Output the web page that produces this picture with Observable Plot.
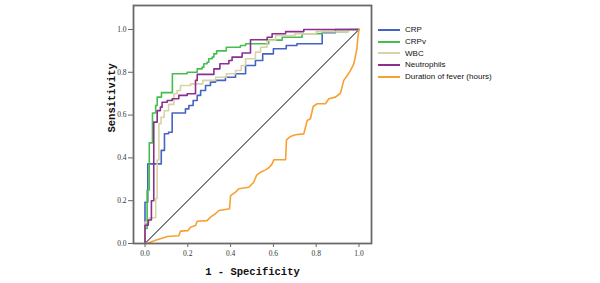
<!DOCTYPE html>
<html>
<head>
<meta charset="utf-8">
<script src="https://cdn.jsdelivr.net/npm/d3@7"></script>
<script src="https://cdn.jsdelivr.net/npm/@observablehq/plot@0.6"></script>
<style>
  html, body { margin: 0; padding: 0; background: #fff; }
  #wrap { position: relative; width: 600px; height: 283px; overflow: hidden; }
  #legend { position: absolute; left: 378px; top: 24px; font-family: "Liberation Sans", Arial, sans-serif; font-size: 8px; color: #111; }
  .row { display: flex; align-items: center; height: 11.7px; }
  .sw { width: 22px; height: 2px; margin-right: 5px; }
</style>
</head>
<body>
<div id="wrap">
  <div id="chart"></div>
  <div id="legend"></div>
</div>
<script>
// Series names and colours
const seriesNames = ["CRP", "CRPv", "WBC", "Neutrophils", "Duration of fever (hours)"];
const seriesColors = ["#4463c4", "#45bd4f", "#d8d2a6", "#8b2e8d", "#f7a131"];

// Axis ticks
const xTicks = [0, 0.2, 0.4, 0.6, 0.8, 1.0];
const yTicks = [0, 0.2, 0.4, 0.6, 0.8, 1.0];

// Reference diagonal
const refX = [0, 1];
const refY = [0, 1];

// ROC coordinates (1 - specificity, sensitivity), step curves
const crpFpr = [0, 0.013, 0.076, 0.091, 0.11, 0.127, 0.189, 0.205, 0.225, 0.244, 0.26, 0.283, 0.306, 0.33, 0.376, 0.423, 0.47, 0.516, 0.55, 0.60, 0.66, 0.71, 0.828, 0.89, 1];
const crpTpr = [0, 0.193, 0.372, 0.435, 0.513, 0.52, 0.61, 0.629, 0.645, 0.668, 0.692, 0.715, 0.738, 0.754, 0.762, 0.777, 0.793, 0.832, 0.855, 0.886, 0.91, 0.925, 0.933, 0.985, 1];

const crpvFpr = [0, 0.01, 0.02, 0.035, 0.05, 0.057, 0.077, 0.128, 0.197, 0.244, 0.267, 0.275, 0.29, 0.298, 0.314, 0.322, 0.335, 0.38, 0.446, 0.47, 0.578, 0.641, 0.734, 0.828, 0.95, 1];
const crpvTpr = [0, 0.07, 0.25, 0.47, 0.61, 0.645, 0.684, 0.705, 0.793, 0.80, 0.816, 0.824, 0.84, 0.847, 0.863, 0.871, 0.886, 0.90, 0.917, 0.925, 0.933, 0.95, 0.964, 0.98, 0.99, 1];

const wbcFpr = [0, 0.02, 0.05, 0.057, 0.065, 0.075, 0.09, 0.11, 0.135, 0.15, 0.166, 0.213, 0.27, 0.33, 0.38, 0.423, 0.45, 0.47, 0.516, 0.54, 0.57, 0.61, 0.70, 0.80, 0.95, 1];
const wbcTpr = [0, 0.10, 0.12, 0.21, 0.39, 0.56, 0.59, 0.62, 0.65, 0.70, 0.715, 0.738, 0.746, 0.762, 0.777, 0.793, 0.808, 0.832, 0.863, 0.894, 0.917, 0.949, 0.972, 0.98, 0.99, 1];

const neuFpr = [0, 0.015, 0.03, 0.041, 0.057, 0.072, 0.08, 0.104, 0.127, 0.158, 0.197, 0.236, 0.244, 0.322, 0.35, 0.392, 0.407, 0.454, 0.493, 0.571, 0.594, 0.657, 0.742, 1];
const neuTpr = [0, 0.085, 0.11, 0.20, 0.567, 0.621, 0.637, 0.66, 0.668, 0.676, 0.692, 0.70, 0.762, 0.79, 0.816, 0.84, 0.855, 0.871, 0.89, 0.952, 0.964, 0.98, 0.99, 1];

// Duration of fever: ROC points joined by straight segments
const durFpr = [0, 0.01, 0.03, 0.057, 0.08, 0.104, 0.158, 0.166, 0.2, 0.213, 0.236, 0.244, 0.29, 0.306, 0.329, 0.345, 0.368, 0.395, 0.40, 0.423, 0.438, 0.485, 0.508, 0.521, 0.54, 0.563, 0.579, 0.594, 0.602, 0.657, 0.661, 0.68, 0.703, 0.742, 0.758, 0.773, 0.786, 0.805, 0.843, 0.859, 0.89, 0.913, 0.929, 0.945, 0.96, 0.976, 0.984, 0.99, 0.992, 0.995, 1];
const durTpr = [0, 0.0, 0.008, 0.017, 0.025, 0.033, 0.036, 0.058, 0.06, 0.076, 0.084, 0.104, 0.107, 0.123, 0.139, 0.154, 0.158, 0.162, 0.224, 0.24, 0.256, 0.263, 0.286, 0.318, 0.333, 0.344, 0.354, 0.372, 0.391, 0.391, 0.484, 0.50, 0.508, 0.512, 0.575, 0.583, 0.64, 0.653, 0.653, 0.676, 0.684, 0.702, 0.762, 0.785, 0.808, 0.84, 0.879, 0.91, 0.933, 0.964, 1];

const toRows = (name, xs, ys) => xs.map((x, i) => ({series: name, fpr: x, tpr: ys[i]}));
const stepRows = [
  ...toRows(seriesNames[0], crpFpr, crpTpr),
  ...toRows(seriesNames[1], crpvFpr, crpvTpr),
  ...toRows(seriesNames[2], wbcFpr, wbcTpr),
  ...toRows(seriesNames[3], neuFpr, neuTpr)
];
const durRows = toRows(seriesNames[4], durFpr, durTpr);
const refRows = refX.map((x, i) => ({x, y: refY[i]}));

const fmt = d3.format(".1f");

const chart = Plot.plot({
  width: 600,
  height: 283,
  marginLeft: 133,
  marginRight: 229,
  marginTop: 5,
  marginBottom: 40,
  style: {background: "#fff", color: "#222"},
  x: {domain: [-0.0537, 1.0584]},
  y: {domain: [0, 1.112]},
  color: {domain: seriesNames, range: seriesColors},
  marks: [
    Plot.axisX({ticks: xTicks, tickFormat: fmt, tickSize: 4, tickPadding: 3, label: null, stroke: "#666",
      fontFamily: "Liberation Serif", fontSize: 7.5, fill: "#333"}),
    Plot.axisY({ticks: yTicks, tickFormat: fmt, tickSize: 5, tickPadding: 2, label: null, stroke: "#666",
      fontFamily: "Liberation Serif", fontSize: 7.5, fill: "#333"}),
    Plot.line(refRows, {x: "x", y: "y", stroke: "#000", strokeWidth: 1}),
    Plot.line(stepRows, {x: "fpr", y: "tpr", z: "series", stroke: "series", strokeWidth: 1.6, curve: "step-before"}),
    Plot.line(durRows, {x: "fpr", y: "tpr", stroke: "series", strokeWidth: 1.6}),
    Plot.frame({stroke: "#6a6a6a", strokeWidth: 1.8}),
    Plot.text(["1 - Specificity"], {frameAnchor: "bottom", dy: 31, text: d => d, fontFamily: "Liberation Mono",
      fontWeight: "bold", fontSize: 10.5, fill: "#111"}),
    Plot.text(["Sensitivity"], {frameAnchor: "left", dx: -22, dy: 8, rotate: -90, text: d => d, fontFamily: "Liberation Mono",
      fontWeight: "bold", fontSize: 10.5, fill: "#111"})
  ]
});
document.getElementById("chart").appendChild(chart);

const legend = document.getElementById("legend");
seriesNames.forEach((name, i) => {
  const row = document.createElement("div");
  row.className = "row";
  const sw = document.createElement("div");
  sw.className = "sw";
  sw.style.background = seriesColors[i];
  const t = document.createElement("span");
  t.textContent = name;
  row.appendChild(sw);
  row.appendChild(t);
  legend.appendChild(row);
});
</script>
</body>
</html>
